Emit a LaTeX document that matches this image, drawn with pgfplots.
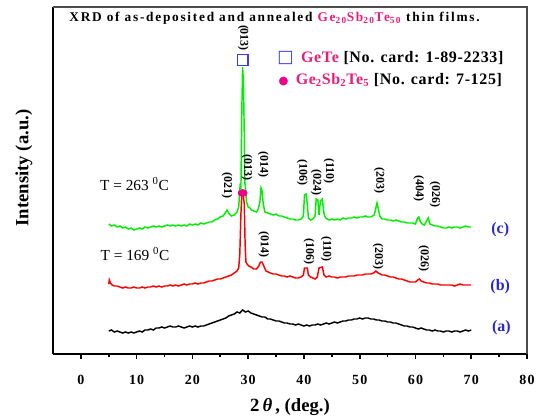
\documentclass[border=0pt]{standalone}
\usepackage{fontspec}
\setmainfont{Liberation Serif}
\newfontfamily\symfont{DejaVu Sans}
\usepackage{pgfplots}
\pgfplotsset{compat=1.18}
\definecolor{pinkc}{RGB}{232,30,122}
\definecolor{bluec}{RGB}{40,40,210}
\definecolor{sqblue}{RGB}{60,60,235}
\definecolor{greenc}{RGB}{0,240,0}
\begin{document}
\begin{tikzpicture}
\begin{axis}[
  scale only axis, width=355.5pt, height=260.25pt,
  xmin=-5, xmax=80, ymin=0, ymax=347,
  axis x line*=bottom, axis y line*=left,
  axis line style={line width=1.4pt, black, -},
  xtick={0,10,...,80}, minor xtick={5,15,...,75},
  ytick=\empty,
  tick align=outside,
  major tick length=4pt, minor tick length=2.5pt,
  every tick/.style={black, line width=1.2pt},
  /pgf/number format/assume math mode=true,
  xticklabel style={font=\bfseries\fontsize{10.5}{12}\selectfont\addfontfeatures{LetterSpace=8}, yshift=-8pt},
  xlabel={\bfseries 2\,\textit{θ}\,, (deg.)},
  xlabel style={font=\fontsize{14}{16}\selectfont, yshift=-3.5pt},
  ylabel={\bfseries Intensity (a.u.)},
  ylabel style={font=\fontsize{14}{16}\selectfont, at={(rel axis cs:0,0.536)}, yshift=12pt},
  clip=false,
]
% (a) as-deposited
\addplot[black, line width=1.1pt] coordinates {
(5,23)(5.5,24)(6,22)(6.5,23)(7,22)(7.5,21)(8,22)(8.5,21)(9,22)(9.5,21)(10,22)(10.5,23)(11,22)(11.5,24)(12,24)(12.5,25)(13,24)(13.5,26)(14,26)(14.5,27)(15,26)(15.5,27)(16,28)(16.5,27)(17,27)(17.5,28)(18,27)(18.5,26)(19,27)(19.5,28)(20,27)(20.5,28)(21,27)(21.5,28)(22,28)(22.5,29)(23,30)(23.5,31)(24,32)(24.5,33)(25,34)(25.5,35)(26,36)(26.5,38)(27,39)(27.5,40)(28,42)(28.5,41)(29,44)(29.5,42)(30,43)(30.5,41)(31,40)(31.5,39)(32,38)(32.5,37)(33,37)(33.5,35)(34,35)(34.5,34)(35,33)(35.5,33)(36,32)(36.5,31)(37,31)(37.5,30)(38,30)(38.5,29)(39,30)(39.5,29)(40,28)(40.5,29)(41,28)(41.5,29)(42,29)(42.5,30)(43,29)(43.5,30)(44,31)(44.5,30)(45,31)(45.5,32)(46,31)(46.5,32)(47,33)(47.5,33)(48,34)(48.5,34)(49,35)(49.5,35)(50,36)(50.5,35)(51,36)(51.5,36)(52,35)(52.5,35)(53,34)(53.5,34)(54,33)(54.5,33)(55,32)(55.5,32)(56,31)(56.5,31)(57,30)(57.5,29)(58,28)(58.5,28)(59,27)(59.5,27)(60,26)(60.5,25)(61,26)(61.5,25)(62,24)(62.5,24)(63,23)(63.5,24)(64,23)(64.5,23)(65,22)(65.5,23)(66,23)(66.5,22)(67,23)(67.5,23)(68,22)(68.5,23)(69,24)(69.5,23)(70,24)
};
% (c) T = 263 C
\addplot[greenc, line width=1.1pt] coordinates {
(5,130)(5.5,128)(6,129)(6.5,127)(7,128)(7.5,126)(8,127)(8.5,125)(9,126)(9.5,124)(10,125)(10.5,126)(11,125)(11.5,127)(12,126)(12.5,127)(13,128)(13.5,127)(14,128)(14.5,127)(15,128)(15.5,129)(16,128)(16.5,129)(17,128)(17.5,129)(18,128)(18.5,129)(19,128)(19.5,130)(20,129)(20.5,130)(21,129)(21.5,131)(22,130)(22.5,131)(23,132)(23.5,132)(24,134)(24.5,135)(25,137)(25.5,138)(25.9,141)(26.2,144)(26.6,140)(27,138)(27.5,139)(28,142)(28.3,147)(28.5,165)(28.6,171)(28.7,165)(28.85,240)(29.0,287)(29.15,272)(29.3,220)(29.4,171)(29.5,168)(29.7,152)(30,147)(30.3,146)(30.6,144)(31,143)(31.5,142)(31.8,145)(32.1,152)(32.3,166)(32.5,163)(32.7,150)(33,142)(33.5,141)(34,140)(34.5,139)(35,140)(35.5,138)(36,138)(36.5,137)(37,136)(37.5,135)(38,135)(38.5,134)(39,134)(39.5,135)(39.9,138)(40.1,159)(40.4,160)(40.6,150)(40.8,136)(41.2,134)(41.6,135)(42,138)(42.2,155)(42.5,154)(42.7,139)(42.95,153)(43.3,155)(43.6,140)(43.9,136)(44.5,134)(45,135)(45.5,134)(46,135)(46.5,134)(47,136)(47.5,135)(48,136)(48.5,136)(49,137)(49.5,136)(50,137)(50.5,137)(51,138)(51.5,137)(52,137)(52.6,139)(52.9,146)(53.1,151)(53.3,146)(53.6,138)(54,135)(54.5,135)(55,134)(55.5,134)(56,133)(56.5,134)(57,133)(57.5,132)(58,132)(58.5,131)(59,131)(59.5,131)(60,130)(60.3,135)(60.6,137)(60.9,132)(61.2,130)(61.6,129)(62.0,133)(62.3,136)(62.6,130)(63,129)(63.5,128)(64,128)(64.5,127)(65,126)(65.5,126)(66,127)(66.5,126)(67,127)(67.5,127)(68,126)(68.5,127)(69,128)(69.5,127)(70,127)
};
% (b) T = 169 C
\addplot[red, line width=1.1pt] coordinates {
(5,70)(5.1,74)(5.3,71)(5.6,69)(6,68)(6.5,68)(7,67)(7.5,66)(8,67)(8.5,66)(9,66)(9.5,67)(10,66)(10.5,66)(11,67)(11.5,66)(12,67)(12.5,67)(13,68)(13.5,67)(14,68)(14.5,67)(15,68)(15.5,68)(16,69)(16.5,68)(17,69)(17.5,68)(18,69)(18.5,70)(19,69)(19.5,70)(20,70)(20.5,71)(21,70)(21.5,71)(22,71)(22.5,72)(23,73)(23.5,73)(24,74)(24.5,75)(25,75)(25.5,76)(26,77)(26.5,78)(27,79)(27.5,81)(28,83)(28.3,86)(28.5,100)(28.7,140)(28.85,160)(29.1,160)(29.3,150)(29.45,110)(29.6,92)(29.8,90)(30.1,88)(30.5,87)(31,85)(31.5,85)(31.9,88)(32.2,92)(32.5,92)(32.8,88)(33.2,83)(33.6,82)(34,81)(34.5,80)(35,80)(35.5,79)(36,78)(36.5,78)(37,77)(37.5,78)(38,77)(38.5,76)(39,76)(39.5,77)(39.9,79)(40.1,86)(40.6,86)(40.8,79)(41.2,77)(41.6,76)(42,75)(42.4,77)(42.7,86)(43.3,87)(43.6,79)(44,77)(44.5,78)(45,77)(45.5,77)(46,76)(46.5,77)(47,77)(47.5,77)(48,78)(48.5,78)(49,78)(49.5,79)(50,79)(50.5,79)(51,80)(51.5,80)(52,80)(52.5,81)(52.9,83)(53.3,81)(53.7,80)(54,79)(54.5,79)(55,78)(55.5,77)(56,77)(56.5,76)(57,75)(57.5,75)(58,74)(58.5,73)(59,72)(59.5,72)(60,72)(60.4,74)(60.7,75)(61,73)(61.5,72)(62,71)(62.5,71)(63,70)(63.5,70)(64,70)(64.5,69)(65,69)(65.5,69)(66,69)(66.5,69)(67,68)(67.5,69)(68,70)(68.5,69)(69,69)(69.5,69)(70,69)
};
% phase markers
\addplot[only marks, mark=square, mark size=4pt, draw=sqblue, line width=0.9pt] coordinates {(29,294)};
\addplot[only marks, mark=*, mark size=2.7pt, draw=magenta, fill=magenta, mark options={xscale=1.3}] coordinates {(29,161)};
% title
\node[anchor=west, font=\bfseries\fontsize{10}{12}\selectfont\addfontfeatures{LetterSpace=13}] at (axis cs:-2.9,336)
  {XRD of as-deposited and annealed \textcolor{pinkc}{Ge\textsubscript{20}Sb\textsubscript{20}Te\textsubscript{50}} thin films.};
% legend
\node[anchor=west, font=\bfseries\fontsize{12}{14}\selectfont\addfontfeatures{LetterSpace=4}, inner sep=0pt] at (axis cs:35.2,296)
  {{\symfont\color{sqblue}\fontsize{13}{14}\selectfont □}\, \textcolor{pinkc}{GeTe} [No. card: 1-89-2233]};
\node[anchor=west, font=\bfseries\fontsize{12}{14}\selectfont\addfontfeatures{LetterSpace=4}, inner sep=0pt] at (axis cs:35.4,274)
  {{\symfont\color{magenta}\fontsize{8.5}{14}\selectfont ●}\, \textcolor{pinkc}{Ge\textsubscript{2}Sb\textsubscript{2}Te\textsubscript{5}} [No. card: 7-125]};
% temperatures
\node[anchor=west, font=\fontsize{11.5}{13}\selectfont] at (axis cs:2.6,170) {T = 263 \textsuperscript{0}C};
\node[anchor=west, font=\fontsize{11.5}{13}\selectfont] at (axis cs:2.7,100) {T = 169 \textsuperscript{0}C};
% curve labels
\node[font=\bfseries\fontsize{12}{14}\selectfont, text=bluec] at (axis cs:75.2,124) {(c)};
\node[font=\bfseries\fontsize{12}{14}\selectfont, text=bluec] at (axis cs:75.2,67) {(b)};
\node[font=\bfseries\fontsize{12}{14}\selectfont, text=bluec] at (axis cs:75.4,26) {(a)};
% hkl labels
\begin{scope}[every node/.style={rotate=-90, font=\bfseries\fontsize{9}{10}\selectfont, inner sep=0pt}]
\node at (axis cs:29.1,316) {(013)};
\node at (axis cs:26.2,169) {(021)};
\node at (axis cs:29.8,187) {(013)};
\node at (axis cs:32.7,190) {(014)};
\node at (axis cs:39.7,182) {(106)};
\node at (axis cs:42.2,172) {(024)};
\node at (axis cs:44.5,183) {(110)};
\node at (axis cs:53.5,174) {(203)};
\node at (axis cs:60.6,166) {(404)};
\node at (axis cs:63.5,160) {(026)};
\node at (axis cs:32.8,110) {(014)};
\node at (axis cs:40.9,103) {(106)};
\node at (axis cs:44.0,105) {(110)};
\node at (axis cs:53.3,98) {(203)};
\node at (axis cs:61.5,96) {(026)};
\end{scope}
\draw[gray!60!black, line width=0.8pt] (rel axis cs:0,1) -- (rel axis cs:1,1) -- (rel axis cs:1,0);
\end{axis}
\pgfresetboundingbox
\path[use as bounding box] ([shift={(-39.75pt,-48pt)}]current axis.south west) rectangle ([shift={(7.5pt,5.25pt)}]current axis.north east);
\end{tikzpicture}
\end{document}
